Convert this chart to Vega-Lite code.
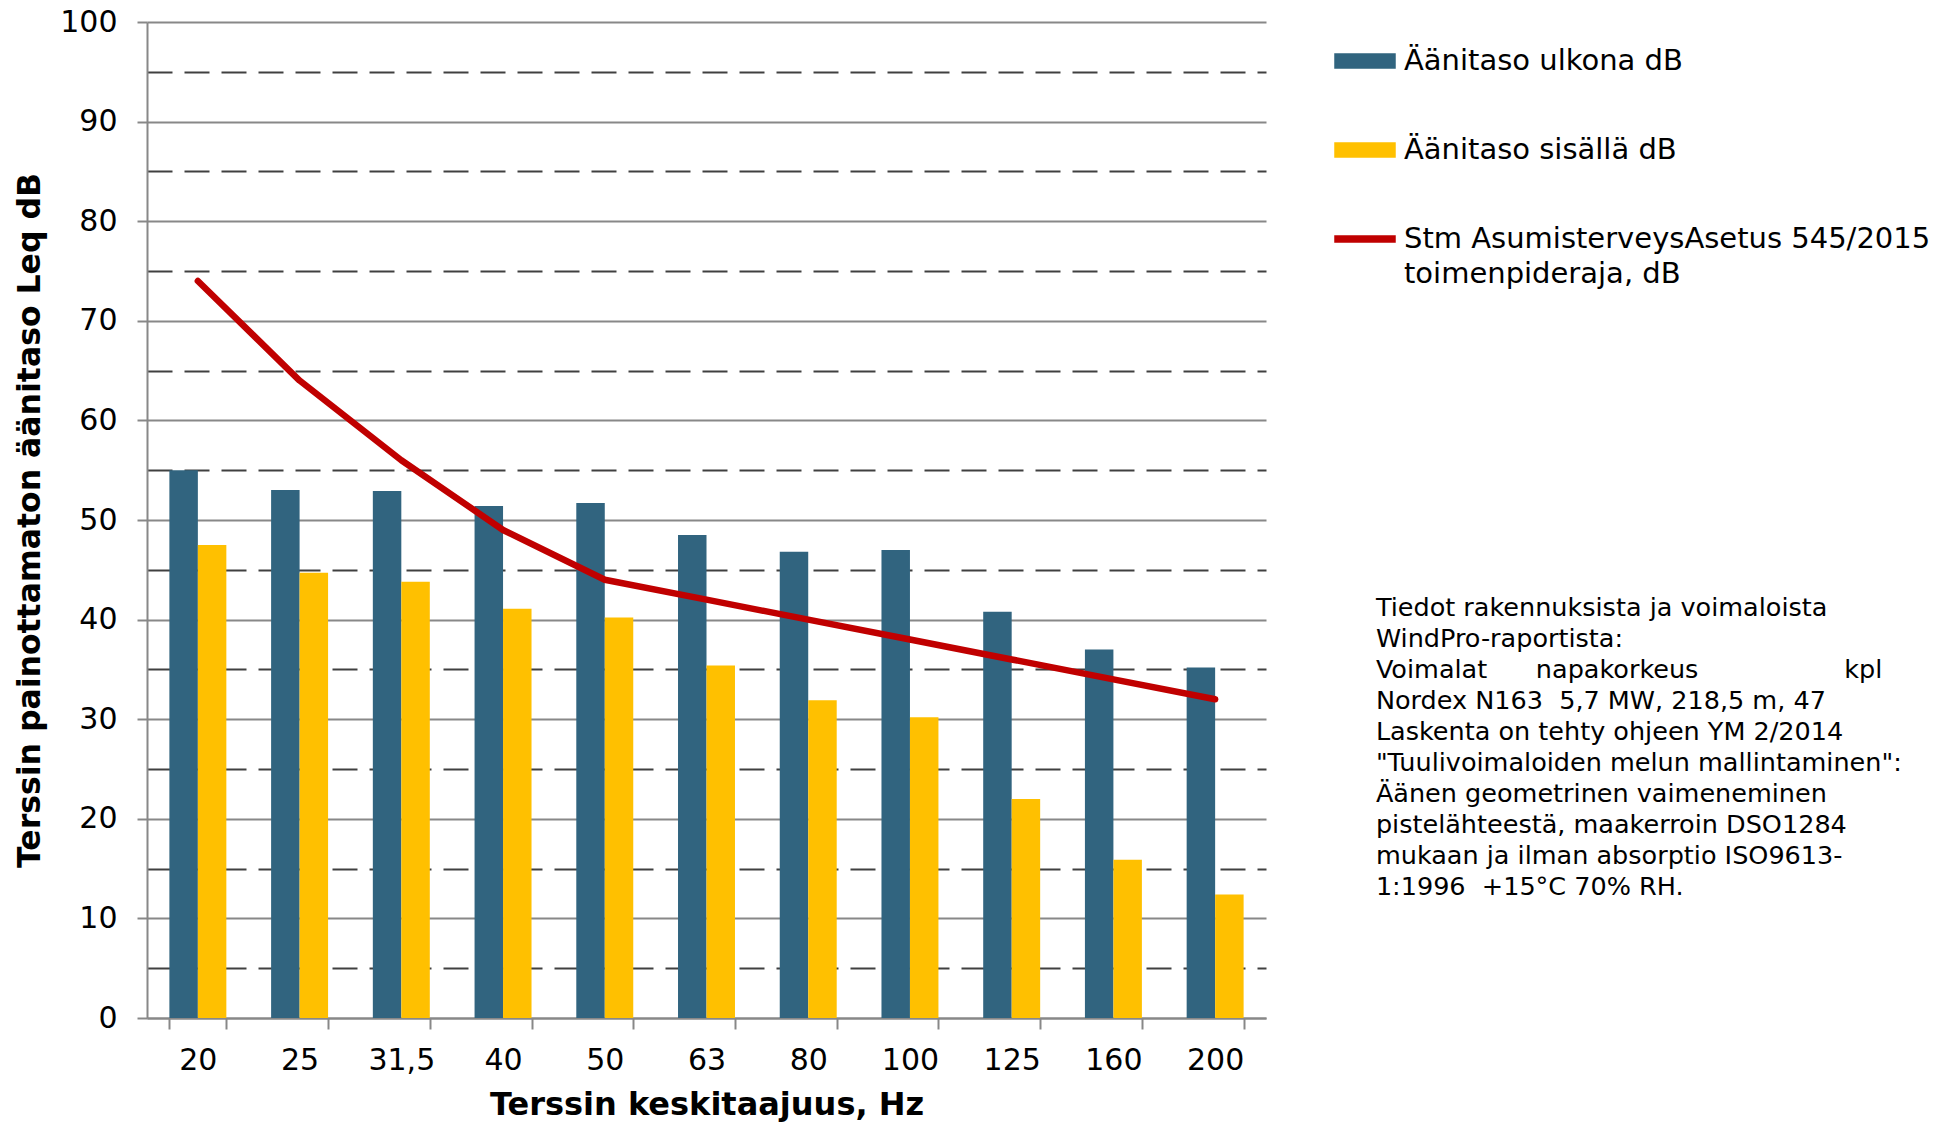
{
  "$schema": "https://vega.github.io/schema/vega-lite/v6.json",
  "width": 1119,
  "height": 996,
  "autosize": {"type": "none"},
  "padding": {"left": 147, "top": 22, "right": 684, "bottom": 108},
  "background": "white",
  "config": {"font": "DejaVu Sans", "view": {"stroke": null}},
  "title": {
    "text": [
      "Tiedot rakennuksista ja voimaloista",
      "WindPro-raportista:",
      "Voimalat\u00a0\u00a0\u00a0\u00a0\u00a0\u00a0napakorkeus\u00a0\u00a0\u00a0\u00a0\u00a0\u00a0\u00a0\u00a0\u00a0\u00a0\u00a0\u00a0\u00a0\u00a0\u00a0\u00a0\u00a0\u00a0kpl",
      "Nordex N163\u00a0\u00a05,7 MW, 218,5 m, 47",
      "Laskenta on tehty ohjeen YM 2/2014",
      "\"Tuulivoimaloiden melun mallintaminen\":",
      "Äänen geometrinen vaimeneminen",
      "pistelähteestä, maakerroin DSO1284",
      "mukaan ja ilman absorptio ISO9613-",
      "1:1996\u00a0\u00a0+15°C 70% RH."
    ],
    "orient": "right",
    "anchor": "middle",
    "frame": "group",
    "angle": 0,
    "align": "left",
    "baseline": "middle",
    "offset": -1081,
    "dy": 88,
    "fontSize": 25.5,
    "fontWeight": "normal",
    "font": "DejaVu Sans",
    "lineHeight": 31,
    "color": "black"
  },
  "data": {
    "values": [
      {"taajuus": "20", "sarja": "Äänitaso ulkona dB", "dB": 55.0},
      {"taajuus": "25", "sarja": "Äänitaso ulkona dB", "dB": 53.0},
      {"taajuus": "31,5", "sarja": "Äänitaso ulkona dB", "dB": 52.9},
      {"taajuus": "40", "sarja": "Äänitaso ulkona dB", "dB": 51.4},
      {"taajuus": "50", "sarja": "Äänitaso ulkona dB", "dB": 51.7},
      {"taajuus": "63", "sarja": "Äänitaso ulkona dB", "dB": 48.5},
      {"taajuus": "80", "sarja": "Äänitaso ulkona dB", "dB": 46.8},
      {"taajuus": "100", "sarja": "Äänitaso ulkona dB", "dB": 47.0},
      {"taajuus": "125", "sarja": "Äänitaso ulkona dB", "dB": 40.8},
      {"taajuus": "160", "sarja": "Äänitaso ulkona dB", "dB": 37.0},
      {"taajuus": "200", "sarja": "Äänitaso ulkona dB", "dB": 35.2},
      {"taajuus": "20", "sarja": "Äänitaso sisällä dB", "dB": 47.5},
      {"taajuus": "25", "sarja": "Äänitaso sisällä dB", "dB": 44.7},
      {"taajuus": "31,5", "sarja": "Äänitaso sisällä dB", "dB": 43.8},
      {"taajuus": "40", "sarja": "Äänitaso sisällä dB", "dB": 41.1},
      {"taajuus": "50", "sarja": "Äänitaso sisällä dB", "dB": 40.2},
      {"taajuus": "63", "sarja": "Äänitaso sisällä dB", "dB": 35.4},
      {"taajuus": "80", "sarja": "Äänitaso sisällä dB", "dB": 31.9},
      {"taajuus": "100", "sarja": "Äänitaso sisällä dB", "dB": 30.2},
      {"taajuus": "125", "sarja": "Äänitaso sisällä dB", "dB": 22.0},
      {"taajuus": "160", "sarja": "Äänitaso sisällä dB", "dB": 15.9},
      {"taajuus": "200", "sarja": "Äänitaso sisällä dB", "dB": 12.4},
      {"taajuus": "20", "sarja": "Stm AsumisterveysAsetus 545/2015 toimenpideraja, dB", "dB": 74},
      {"taajuus": "25", "sarja": "Stm AsumisterveysAsetus 545/2015 toimenpideraja, dB", "dB": 64},
      {"taajuus": "31,5", "sarja": "Stm AsumisterveysAsetus 545/2015 toimenpideraja, dB", "dB": 56},
      {"taajuus": "40", "sarja": "Stm AsumisterveysAsetus 545/2015 toimenpideraja, dB", "dB": 49},
      {"taajuus": "50", "sarja": "Stm AsumisterveysAsetus 545/2015 toimenpideraja, dB", "dB": 44},
      {"taajuus": "63", "sarja": "Stm AsumisterveysAsetus 545/2015 toimenpideraja, dB", "dB": 42},
      {"taajuus": "80", "sarja": "Stm AsumisterveysAsetus 545/2015 toimenpideraja, dB", "dB": 40},
      {"taajuus": "100", "sarja": "Stm AsumisterveysAsetus 545/2015 toimenpideraja, dB", "dB": 38},
      {"taajuus": "125", "sarja": "Stm AsumisterveysAsetus 545/2015 toimenpideraja, dB", "dB": 36},
      {"taajuus": "160", "sarja": "Stm AsumisterveysAsetus 545/2015 toimenpideraja, dB", "dB": 34},
      {"taajuus": "200", "sarja": "Stm AsumisterveysAsetus 545/2015 toimenpideraja, dB", "dB": 32}
    ]
  },
  "encoding": {
    "x": {
      "field": "taajuus",
      "type": "nominal",
      "sort": ["20", "25", "31,5", "40", "50", "63", "80", "100", "125", "160", "200"],
      "scale": {"paddingInner": 0.44, "paddingOuter": 0.22},
      "axis": {
        "title": "Terssin keskitaajuus, Hz",
        "titleFontSize": 32,
        "titleFontWeight": "bold",
        "titleColor": "black",
        "titlePadding": 14,
        "labelAngle": 0,
        "labelFontSize": 30,
        "labelColor": "black",
        "labelPadding": 16,
        "tickBand": "extent",
        "tickSize": 11,
        "tickColor": "#888888",
        "tickWidth": 2,
        "domainColor": "#888888",
        "domainWidth": 2,
        "grid": false
      }
    },
    "y": {
      "field": "dB",
      "type": "quantitative",
      "scale": {"domain": [0, 100], "nice": false},
      "axis": {
        "title": "Terssin painottamaton äänitaso Leq dB",
        "titleFontSize": 31.5,
        "titleFontWeight": "bold",
        "titleColor": "black",
        "titlePadding": 13,
        "values": [0, 5, 10, 15, 20, 25, 30, 35, 40, 45, 50, 55, 60, 65, 70, 75, 80, 85, 90, 95, 100],
        "labelExpr": "datum.value % 10 == 0 ? datum.label : ''",
        "labelFontSize": 30,
        "labelColor": "black",
        "labelPadding": 20,
        "tickSize": 10,
        "tickWidth": 2,
        "tickColor": "#888888",
        "tickOpacity": {"condition": {"test": "datum.value % 10 != 0", "value": 0}, "value": 1},
        "domainColor": "#888888",
        "domainWidth": 2,
        "grid": true,
        "gridWidth": 2,
        "gridColor": {"condition": {"test": "datum.value % 10 != 0", "value": "#404040"}, "value": "#888888"},
        "gridDash": {"condition": {"test": "datum.value % 10 != 0", "value": [25, 12]}, "value": []}
      }
    },
    "color": {
      "field": "sarja",
      "type": "nominal",
      "scale": {
        "domain": ["Äänitaso ulkona dB", "Äänitaso sisällä dB", "Stm AsumisterveysAsetus 545/2015 toimenpideraja, dB"],
        "range": ["#31647F", "#FFC000", "#C00000"]
      },
      "legend": {
        "title": null,
        "orient": "none",
        "legendX": 1187,
        "legendY": 8,
        "padding": 0,
        "symbolSize": 3600,
        "labelFontSize": 29,
        "labelColor": "black",
        "labelLimit": 800,
        "labelOffset": 8,
        "rowPadding": 43,
        "labelExpr": "datum.label == 'Stm AsumisterveysAsetus 545/2015 toimenpideraja, dB' ? ['Stm AsumisterveysAsetus 545/2015', 'toimenpideraja, dB'] : datum.label",
        "encode": {
          "symbols": {
            "update": {
              "shape": {"signal": "datum.label == 'Stm AsumisterveysAsetus 545/2015 toimenpideraja, dB' ? 'M-1,-0.1H1V0.1H-1Z' : 'M-1,-0.23H1V0.23H-1Z'"},
              "fill": {"scale": "color", "field": "value"},
              "stroke": {"value": "transparent"},
              "opacity": {"value": 1},
              "fillOpacity": {"value": 1}
            }
          },
          "labels": {
            "update": {"lineHeight": {"value": 35}}
          }
        }
      }
    }
  },
  "layer": [
    {
      "transform": [{"filter": "datum.sarja != 'Stm AsumisterveysAsetus 545/2015 toimenpideraja, dB'"}],
      "mark": {"type": "bar"},
      "encoding": {
        "xOffset": {"field": "sarja", "type": "nominal", "sort": ["Äänitaso ulkona dB", "Äänitaso sisällä dB"]}
      }
    },
    {
      "transform": [{"filter": "datum.sarja == 'Stm AsumisterveysAsetus 545/2015 toimenpideraja, dB'"}],
      "mark": {"type": "line", "strokeWidth": 6.5, "strokeCap": "round", "strokeJoin": "round"},
      "encoding": {}
    }
  ]
}
